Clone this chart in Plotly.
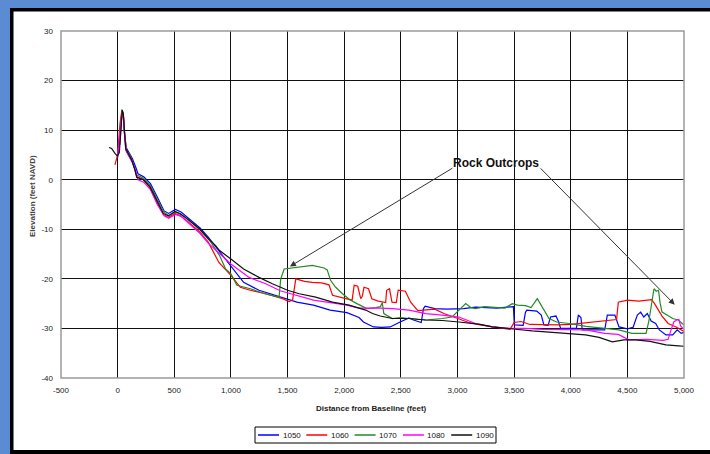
import plotly.graph_objects as go

# ---------------- data ----------------
series_names = ["1050", "1060", "1070", "1080", "1090"]
series_colors = ["#0000ff", "#ff0000", "#228b22", "#ff00ff", "#111111"]

x_1050 = [0, 20, 38, 50, 60, 75, 100, 130, 160, 180, 230, 290, 350, 410, 450, 480, 510, 560, 620, 730, 800, 900,
          1000, 1112, 1248, 1396, 1500, 1582, 1729, 1876, 2024, 2131, 2170, 2259, 2330, 2406, 2494, 2572, 2612, 2680,
          2700, 2715, 2800, 2906, 3053, 3160, 3347, 3494, 3502, 3580, 3600, 3612, 3700, 3740, 3763, 3800, 3822, 3870,
          3890, 3911, 4050, 4067, 4090, 4102, 4300, 4323, 4390, 4411, 4426, 4500, 4550, 4588, 4617, 4645, 4676, 4710,
          4750, 4782, 4841, 4900, 4940, 4975, 5000]
y_1050 = [4.5, 8, 14, 13, 9.5, 6.5, 5.5, 4.3, 2.5, 1.2, 0.6, -0.8, -3.5, -6.3, -6.8, -6.4, -6.0, -6.5, -7.6, -9.8,
          -11.6, -14.5, -17.3, -20.7, -22.3, -23.3, -24, -24.7, -25.3, -26.3, -26.8, -27.8, -28.7, -29.7, -29.8, -29.7,
          -28.7, -27.9, -28.3, -28.8, -26, -25.5, -26, -26.1, -26, -25.7, -25.9, -25.6, -29.3, -29.4, -26.8, -26.3,
          -26.5, -27.3, -29.3, -29.4, -27.7, -27.5, -28.5, -30, -30, -27.3, -27.8, -30.3, -30.3, -27.3, -27.3, -28.7,
          -29.7, -30.1, -29.8, -27.3, -26.7, -27.7, -27, -28.5, -29, -30.3, -31.3, -31.3, -30.3, -31, -30.8]

x_1060 = [-24, -10, 0, 21, 36, 50, 60, 72, 95, 125, 155, 170, 226, 285, 344, 403, 447, 506, 550, 609, 727, 800, 894,
          1000, 1083, 1171, 1307, 1456, 1515, 1545, 1573, 1650, 1719, 1800, 1866, 1897, 2015, 2070, 2088, 2120, 2146,
          2160, 2175, 2200, 2215, 2244, 2300, 2366, 2375, 2400, 2422, 2460, 2477, 2540, 2587, 2650, 2749, 2800, 2880,
          2994, 3100, 3200, 3350, 3465, 3500, 3560, 3640, 3750, 3880, 4000, 4082, 4229, 4376, 4405, 4420, 4500, 4600,
          4714, 4740, 4806, 4860, 4930, 5000]
y_1060 = [3, 4, 5, 11.4, 13.8, 12.6, 9, 6, 5, 3.8, 2, 0.6, 0.1, -1.6, -4.4, -7, -7.6, -6.8, -7.2, -8.2, -10.6, -12.6,
          -16.7, -19.3, -21.7, -22.3, -23, -24, -24.6, -24.2, -20, -20.5, -20.7, -20.8, -21.2, -23.3, -24, -24.3, -21.3,
          -21.5, -24, -23.5, -21.7, -21.9, -22, -24, -24.5, -24.8, -22.3, -22, -24.7, -24.8, -22.3, -22.5, -24.7, -26.4,
          -26.3, -26.1, -27, -28, -28.8, -29.3, -29.8, -30.2, -28.8, -28.6, -29.2, -29.3, -29.3, -29.2, -29, -28.5,
          -28.2, -28.2, -24.7, -24.3, -24.5, -24.2, -25, -27.5, -29, -29.7, -30.6]

x_1070 = [20, 38, 50, 62, 80, 110, 140, 165, 230, 290, 350, 410, 450, 510, 560, 620, 730, 820, 900, 953, 1000, 1053,
          1171, 1300, 1425, 1440, 1470, 1550, 1603, 1719, 1822, 1850, 1880, 1925, 1985, 2050, 2112, 2200, 2280, 2320,
          2336, 2350, 2425, 2500, 2572, 2650, 2719, 2866, 2952, 3000, 3040, 3073, 3120, 3160, 3240, 3307, 3420, 3484,
          3530, 3600, 3650, 3705, 3740, 3770, 3808, 3876, 3985, 4135, 4300, 4425, 4540, 4600, 4665, 4690, 4715, 4735,
          4755, 4775, 4790, 4806, 4850, 4900, 4950, 4980, 5000]
y_1070 = [7, 14.2, 13, 9, 5.8, 5, 3, 1, 0.3, -1.2, -4, -6.6, -7.2, -6.5, -7, -8, -10.2, -12.5, -15.3, -18, -19, -21.3,
          -22, -23, -23.7, -20, -18, -17.8, -17.7, -17.3, -17.8, -18.2, -20.3, -21.7, -23, -24.2, -25, -26, -25.8,
          -25.6, -24.8, -27, -28, -27.8, -28, -28.1, -28.3, -28, -27.7, -26.6, -25.7, -25, -25.8, -26, -25.6, -25.7,
          -25.9, -25, -25.3, -25.4, -25.8, -24, -25.3, -26.5, -28, -28.7, -29, -29.6, -30, -30.3, -31, -31, -31, -28.5,
          -24.5, -22, -22.5, -22.3, -25, -26.7, -27.3, -28, -28.3, -29, -29.3]

x_1080 = [0, 22, 40, 52, 62, 78, 100, 130, 160, 180, 230, 290, 350, 410, 450, 510, 560, 620, 730, 800, 900, 1000,
          1160, 1307, 1435, 1500, 1729, 2024, 2131, 2318, 2425, 2572, 2719, 2866, 3013, 3160, 3307, 3454, 3601, 3750,
          3900, 4135, 4300, 4420, 4514, 4670, 4818, 4860, 4880, 4910, 4935, 4955, 4970, 4990, 5000]
y_1080 = [5, 9.5, 13.5, 12.8, 9, 5.7, 4.8, 3.5, 1.5, 0, -0.5, -2, -5, -7.3, -7.8, -7, -7.4, -8.6, -10.9, -12.8, -15,
          -17, -19.7, -21, -22.4, -22.8, -24.3, -25.3, -25.9, -25.9, -26, -26.3, -27, -27.3, -27.7, -29, -29.7, -30,
          -30, -30.2, -30.2, -30.3, -31, -31.2, -32.3, -32.2, -32.4, -32.2, -30.7, -28.7, -28.3, -28.2, -29.5, -30,
          -30]

x_1090 = [-76, -53, -24, -3, 15, 27, 41, 50, 59, 71, 94, 124, 153, 168, 226, 285, 344, 403, 447, 506, 550, 609, 727,
          800, 865, 900, 1000, 1112, 1248, 1366, 1500, 1603, 1748, 1897, 2044, 2190, 2250, 2318, 2425, 2572, 2719,
          2866, 3013, 3200, 3307, 3494, 3660, 3838, 3985, 4131, 4250, 4367, 4470, 4573, 4700, 4841, 4950, 5000]
y_1090 = [6.5, 6.3, 5.3, 4.8, 5.5, 9.3, 14, 13.4, 10, 6.3, 5.3, 4, 2, 0.5, 0, -1.4, -4.1, -6.8, -7.3, -6.4, -6.8, -7.8,
          -10, -11.9, -13.3, -14.3, -16, -18, -19.7, -21, -22.3, -23, -23.7, -24.7, -25.3, -26.3, -27, -27.5, -28, -28,
          -28.3, -28.4, -28.7, -29.2, -29.7, -30.2, -30.5, -30.8, -31, -31.3, -31.8, -32.7, -32.3, -32.3, -32.6, -33.3,
          -33.5, -33.6]

x_tick_vals = [-500, 0, 500, 1000, 1500, 2000, 2500, 3000, 3500, 4000, 4500, 5000]
x_tick_text = ["-500", "0", "500", "1,000", "1,500", "2,000", "2,500", "3,000", "3,500", "4,000", "4,500", "5,000"]
y_tick_vals = [-40, -30, -20, -10, 0, 10, 20, 30]
y_tick_text = ["-40", "-30", "-20", "-10", "0", "10", "20", "30"]

x_title = "Distance from Baseline (feet)"
y_title = "Elevation (feet NAVD)"
callout_text = "Rock Outcrops"
callout_pos = (3340, 3.4)
arrow_tails = [(2968, 2.5), (3721, 2.6)]
arrow_heads = [(1521, -17.5), (4918, -25.2)]

xs = [x_1050, x_1060, x_1070, x_1080, x_1090]
ys = [y_1050, y_1060, y_1070, y_1080, y_1090]

# ---------------- layout geometry ----------------
W, H = 710, 454
ML, MR, MT, MB = 61, 26, 31, 76
PW, PH = W - ML - MR, H - MT - MB


def px2x(px):
    return (px - ML) / PW


def py2y(py):
    return (H - MB - py) / PH


FONT = "Liberation Sans, Arial, sans-serif"

fig = go.Figure()
for name, color, xv, yv in zip(series_names, series_colors, xs, ys):
    fig.add_trace(go.Scatter(x=xv, y=yv, mode="lines", name=name, hoverinfo="skip",
                             line=dict(color=color, width=1.2), showlegend=False))

shapes = []
# window frame: blue strips + black border
shapes.append(dict(type="rect", xref="paper", yref="paper", x0=px2x(0), x1=px2x(10), y0=py2y(H), y1=py2y(0),
                   fillcolor="#5b8bd2", line=dict(width=0), layer="below"))
shapes.append(dict(type="rect", xref="paper", yref="paper", x0=px2x(0), x1=px2x(W), y0=py2y(8), y1=py2y(0),
                   fillcolor="#5b8bd2", line=dict(width=0), layer="below"))
shapes.append(dict(type="rect", xref="paper", yref="paper", x0=px2x(10), x1=px2x(13.5), y0=py2y(H), y1=py2y(8),
                   fillcolor="#000000", line=dict(width=0), layer="below"))
shapes.append(dict(type="rect", xref="paper", yref="paper", x0=px2x(690), x1=px2x(W), y0=py2y(450), y1=py2y(11.5),
                   fillcolor="#ffffff", line=dict(width=0), layer="below"))
shapes.append(dict(type="rect", xref="paper", yref="paper", x0=px2x(10), x1=px2x(W), y0=py2y(11.5), y1=py2y(8),
                   fillcolor="#000000", line=dict(width=0), layer="below"))
shapes.append(dict(type="rect", xref="paper", yref="paper", x0=px2x(10), x1=px2x(W), y0=py2y(H), y1=py2y(450),
                   fillcolor="#000000", line=dict(width=0), layer="below"))
# plot-area border (grey)
shapes.append(dict(type="rect", xref="paper", yref="paper", x0=0, x1=1, y0=0, y1=1,
                   line=dict(color="#9a9a9a", width=1.5), fillcolor="rgba(0,0,0,0)", layer="above"))

annotations = []
# legend box
lg_x0, lg_x1, lg_y0, lg_y1 = 255, 496, 427, 443
shapes.append(dict(type="rect", xref="paper", yref="paper", x0=px2x(lg_x0), x1=px2x(lg_x1),
                   y0=py2y(lg_y1), y1=py2y(lg_y0), fillcolor="white", line=dict(color="black", width=1)))
for i, (name, color) in enumerate(zip(series_names, series_colors)):
    sx = 258 + i * 48.3
    shapes.append(dict(type="line", xref="paper", yref="paper", x0=px2x(sx), x1=px2x(sx + 21),
                       y0=py2y(435), y1=py2y(435), line=dict(color=color, width=1.5)))
    annotations.append(dict(xref="paper", yref="paper", x=px2x(sx + 22.5), y=py2y(435), text=name,
                            showarrow=False, xanchor="left", yanchor="middle",
                            font=dict(family=FONT, size=8, color="#111")))

# axis titles
annotations.append(dict(xref="paper", yref="paper", x=px2x(371), y=py2y(408), text="<b>" + x_title + "</b>",
                        showarrow=False, xanchor="center", yanchor="middle",
                        font=dict(family=FONT, size=8, color="#222")))
annotations.append(dict(xref="paper", yref="paper", x=px2x(32), y=py2y(196), text="<b>" + y_title + "</b>",
                        showarrow=False, textangle=-90, xanchor="center", yanchor="middle",
                        font=dict(family=FONT, size=8, color="#444")))

# callout
annotations.append(dict(x=callout_pos[0], y=callout_pos[1], xref="x", yref="y", text="<b>" + callout_text + "</b>",
                        showarrow=False, xanchor="center", yanchor="middle",
                        font=dict(family=FONT, size=12, color="#111")))
for (tx, ty), (hx, hy) in zip(arrow_tails, arrow_heads):
    annotations.append(dict(x=hx, y=hy, ax=tx, ay=ty, xref="x", yref="y", axref="x", ayref="y", text="",
                            showarrow=True, arrowhead=2, arrowsize=1.2, arrowwidth=1, arrowcolor="#333",
                            standoff=0, startstandoff=0))

fig.update_layout(
    width=W, height=H,
    margin=dict(l=ML, r=MR, t=MT, b=MB),
    paper_bgcolor="white", plot_bgcolor="white",
    shapes=shapes, annotations=annotations,
    showlegend=False, hovermode=False,
    font=dict(family=FONT, size=8, color="#222"),
)
fig.update_xaxes(range=[-500, 5000], tickvals=x_tick_vals, ticktext=x_tick_text,
                 showgrid=True, gridcolor="#111", gridwidth=1.3, zeroline=False, showline=False,
                 ticks="", ticklabelstandoff=6, tickfont=dict(family=FONT, size=8, color="#222"))
fig.update_yaxes(range=[-40, 30], tickvals=y_tick_vals, ticktext=y_tick_text,
                 showgrid=True, gridcolor="#111", gridwidth=1.3, zeroline=False, showline=False,
                 ticks="", ticklabelstandoff=7, tickfont=dict(family=FONT, size=8, color="#222"))

fig.write_html("out.html", config={"displayModeBar": False},
               post_script="document.documentElement.style.overflow='hidden';document.body.style.margin='0';"
                           "document.body.style.overflow='hidden';")
